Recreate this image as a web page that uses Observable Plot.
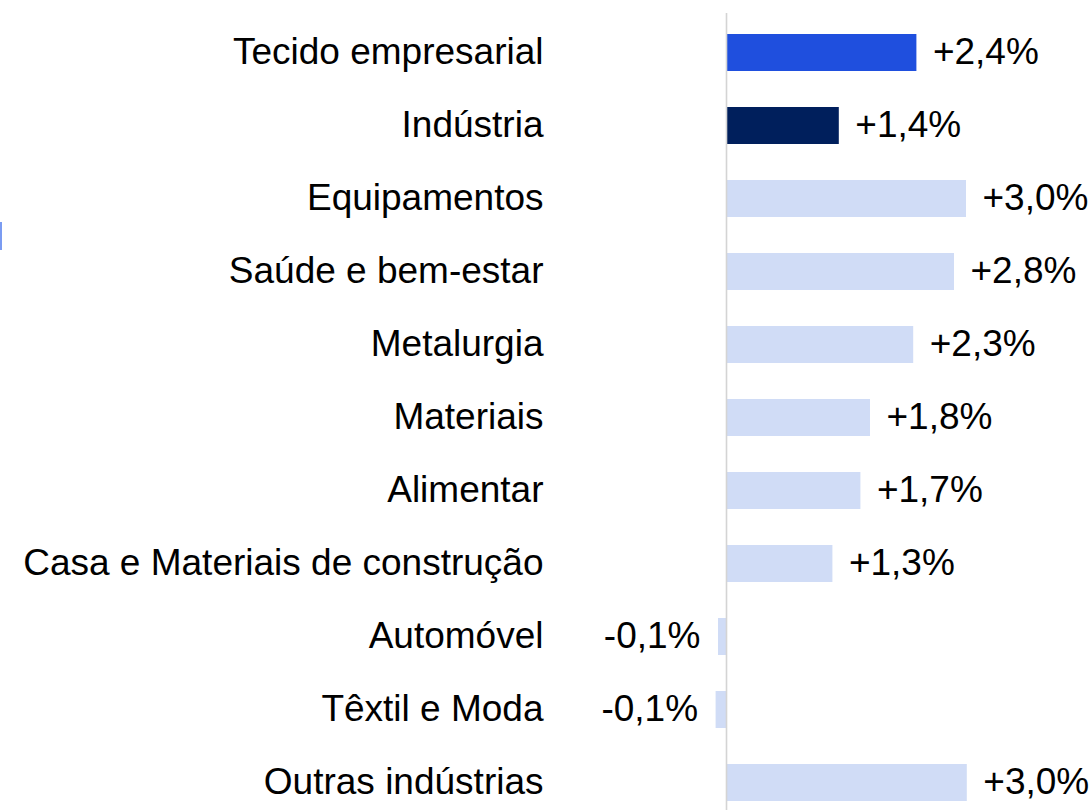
<!DOCTYPE html>
<html>
<head>
<meta charset="utf-8">
<script src="https://cdn.jsdelivr.net/npm/d3@7"></script>
<script src="https://cdn.jsdelivr.net/npm/@observablehq/plot@0.6"></script>
<style>
  html, body { margin: 0; padding: 0; background: #fff; }
  #wrap { position: relative; width: 1091px; height: 811px; overflow: hidden; }
  #edge { position: absolute; left: 0; top: 222px; width: 2px; height: 28px; background: #7b9cf2; }
</style>
</head>
<body>
<div id="wrap"><div id="edge"></div></div>
<script>
const categories = [
  "Tecido empresarial", "Indústria", "Equipamentos", "Saúde e bem-estar",
  "Metalurgia", "Materiais", "Alimentar", "Casa e Materiais de construção",
  "Automóvel", "Têxtil e Moda", "Outras indústrias"
];
const values = [2.38, 1.41, 3.0, 2.85, 2.34, 1.8, 1.68, 1.33, -0.1, -0.13, 3.01];
const labels = ["+2,4%", "+1,4%", "+3,0%", "+2,8%", "+2,3%", "+1,8%", "+1,7%", "+1,3%", "-0,1%", "-0,1%", "+3,0%"];
const groups = ["total", "industry", "sector", "sector", "sector", "sector", "sector", "sector", "sector", "sector", "sector"];

const data = categories.map((c, i) => ({ category: c, value: values[i], label: labels[i], group: groups[i] }));

const chart = Plot.plot({
  width: 1091,
  height: 811,
  marginLeft: 545,
  marginRight: 0,
  marginTop: 24,
  marginBottom: 1,
  style: { fontFamily: "'Liberation Sans', Arial, sans-serif", fontSize: "37px", color: "#000", background: "transparent" },
  x: { domain: [-2.2625, 4.5625], axis: null },
  y: { domain: categories, padding: 0.5, paddingOuter: 0.1, label: null, tickSize: 0, tickPadding: 2 },
  color: { domain: ["total", "industry", "sector"], range: ["#1f4fde", "#001f5c", "#d0dcf6"] },
  marks: [
    Plot.axisY({ tickSize: 0, tickPadding: 2, fontSize: 37, label: null, fill: "#000", dy: -1 }),
    Plot.barX(data, { x: "value", y: "category", fill: "group" }),
    Plot.ruleX([0], { stroke: "#d4d4d4", strokeWidth: 1.6, insetTop: -11 }),
    Plot.text(data.filter(d => d.value >= 0), { x: "value", y: "category", text: "label", textAnchor: "start", dx: 16, dy: -1, fontSize: 37, fill: "#000" }),
    Plot.text(data.filter(d => d.value < 0), { x: "value", y: "category", text: "label", textAnchor: "end", dx: -18, dy: -1, fontSize: 37, fill: "#000" })
  ]
});
document.getElementById("wrap").appendChild(chart);
</script>
</body>
</html>
